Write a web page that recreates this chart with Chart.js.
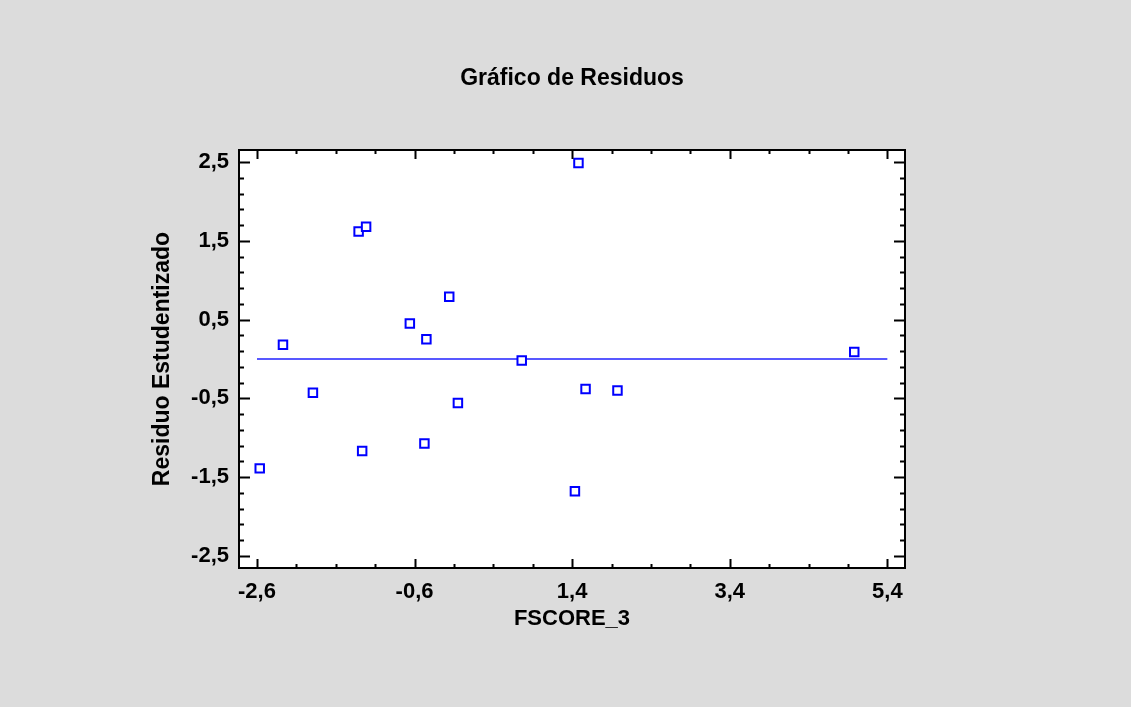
<!DOCTYPE html>
<html>
<head>
<meta charset="utf-8">
<script src="https://cdn.jsdelivr.net/npm/chart.js@4"></script>
<style>
  html, body { margin: 0; padding: 0; background: #dcdcdc; }
  canvas { display: block; }
</style>
</head>
<body>
<canvas id="residuos" width="1131" height="707"></canvas>
<script>
// residuals vs FSCORE_3
let fscore = [-2.565, -2.27, -1.89, -1.31, -1.265, -1.215, -0.66, -0.475, -0.45, -0.16, -0.05, 0.76, 1.435, 1.48, 1.57, 1.975, 4.98];
let residuo = [-1.39, 0.18, -0.43, 1.62, -1.17, 1.68, 0.45, -1.075, 0.25, 0.79, -0.56, -0.02, -1.68, 2.49, -0.38, -0.40, 0.09];

let xTicks = [-2.6, -0.6, 1.4, 3.4, 5.4];
let yTicks = [-2.5, -1.5, -0.5, 0.5, 1.5, 2.5];
let xMinorStep = 0.5;
let yMinorStep = 0.2;
let refLineX = [-2.6, 5.4];
let refLineY = [0, 0];

let font = "'Liberation Sans', Arial, sans-serif";

let points = fscore.map((x, i) => ({ x: x, y: residuo[i] }));
let refLine = refLineX.map((x, i) => ({ x: x, y: refLineY[i] }));

function fmt(v) {
  return Number(v).toFixed(1).replace(".", ",");
}

// white plot area, black frame, ticks pointing inwards
let frame = {
  id: "frame",
  beforeDraw(chart) {
    let { ctx, chartArea: a } = chart;
    ctx.save();
    ctx.fillStyle = "#ffffff";
    ctx.fillRect(a.left, a.top, a.right - a.left, a.bottom - a.top);
    ctx.restore();
  },
  afterDraw(chart) {
    let { ctx, chartArea: a, scales } = chart;
    let xs = scales.x, ys = scales.y;
    ctx.save();
    ctx.strokeStyle = "#000000";
    ctx.lineWidth = 2;
    ctx.strokeRect(a.left, a.top, a.right - a.left, a.bottom - a.top);
    ctx.beginPath();
    let x0 = xTicks[0], x1 = xTicks[xTicks.length - 1];
    for (let v = x0; v <= x1 + 1e-9; v += xMinorStep) {
      let px = Math.round(xs.getPixelForValue(v)) + 0.5;
      let major = xTicks.some(t => Math.abs(t - v) < 1e-6);
      let len = major ? 9 : 4;
      ctx.moveTo(px, a.bottom); ctx.lineTo(px, a.bottom - len);
      ctx.moveTo(px, a.top); ctx.lineTo(px, a.top + len);
    }
    let y0 = yTicks[0], y1 = yTicks[yTicks.length - 1];
    for (let v = y0; v <= y1 + 1e-9; v += yMinorStep) {
      let py = Math.round(ys.getPixelForValue(v)) + 0.5;
      let major = yTicks.some(t => Math.abs(t - v) < 1e-6);
      let len = major ? 11 : 5;
      ctx.moveTo(a.left, py); ctx.lineTo(a.left + len, py);
      ctx.moveTo(a.right, py); ctx.lineTo(a.right - len, py);
    }
    ctx.stroke();
    ctx.restore();
  }
};

let canvas = document.querySelector("#residuos");
let ctx = canvas.getContext("2d");

let chart = new Chart(ctx, {
  type: "scatter",
  data: {
    datasets: [
      {
        data: points,
        pointStyle: "rect",
        pointRadius: 6,
        pointHoverRadius: 6,
        borderWidth: 2,
        borderColor: "#0000ff",
        backgroundColor: "#ffffff",
        order: 1,
      },
      {
        type: "line",
        data: refLine,
        borderColor: "#2020ff",
        borderWidth: 1.5,
        pointRadius: 0,
        fill: false,
        order: 2,
      },
    ],
  },
  options: {
    responsive: false,
    animation: false,
    events: [],
    layout: {
      padding: { left: 140, right: 226, top: 0, bottom: 69 },
    },
    plugins: {
      legend: { display: false },
      tooltip: { enabled: false },
      title: {
        display: true,
        text: "Gráfico de Residuos",
        fullSize: false,
        color: "#000000",
        font: { family: font, weight: "bold", size: 23 },
        padding: { top: 65, bottom: 57.4 },
      },
    },
    scales: {
      x: {
        type: "linear",
        min: -2.828,
        max: 5.624,
        afterBuildTicks: (scale) => {
          scale.ticks = xTicks.map(v => ({ value: v }));
        },
        afterFit: (scale) => {
          scale.height = 70;
        },
        grid: { display: false, drawTicks: false },
        border: { display: false },
        ticks: {
          padding: 11,
          color: "#000000",
          maxRotation: 0,
          autoSkip: false,
          font: { family: font, weight: "bold", size: 22 },
          callback: (value) => fmt(value),
        },
        title: {
          display: true,
          text: "FSCORE_3",
          color: "#000000",
          font: { family: font, weight: "bold", size: 22 },
          padding: { top: 0, bottom: 6 },
        },
      },
      y: {
        type: "linear",
        min: -2.656,
        max: 2.656,
        afterBuildTicks: (scale) => {
          scale.ticks = yTicks.map(v => ({ value: v }));
        },
        afterFit: (scale) => {
          scale.width = 99;
        },
        grid: { display: false, drawTicks: false },
        border: { display: false },
        ticks: {
          padding: 10,
          color: "#000000",
          autoSkip: false,
          font: { family: font, weight: "bold", size: 22 },
          callback: (value) => fmt(value),
        },
        title: {
          display: true,
          text: "Residuo Estudentizado",
          color: "#000000",
          font: { family: font, weight: "bold", size: 23 },
          padding: { top: 9, bottom: 0 },
        },
      },
    },
  },
  plugins: [frame],
});
</script>
</body>
</html>
